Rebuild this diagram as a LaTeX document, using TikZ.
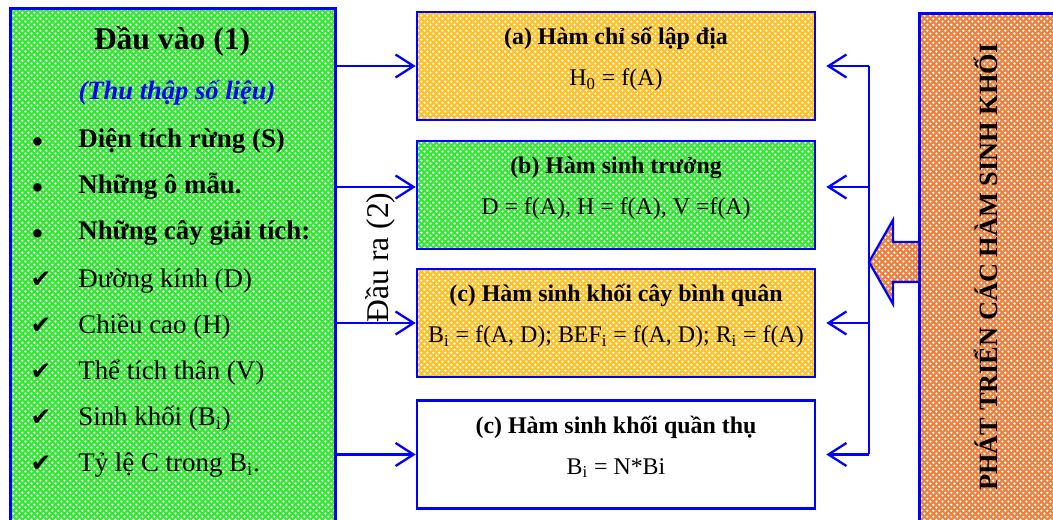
\documentclass[tikz,border=0pt]{standalone}
\usepackage{fontspec}
\setmainfont{Liberation Serif}
\newfontfamily\symfont{DejaVu Sans}
\usetikzlibrary{arrows.meta,patterns.meta}
\definecolor{gfill}{RGB}{50,232,50}
\definecolor{yfill}{RGB}{255,192,40}
\definecolor{ofill}{RGB}{236,128,60}
\definecolor{bline}{RGB}{0,0,255}
\tikzdeclarepattern{
  name=wdots,
  type=uncolored,
  bottom left={(0pt,0pt)},
  top right={(3.6pt,3.6pt)},
  tile size={(3.6pt,3.6pt)},
  code={
    \fill (0.9pt,0.9pt) circle (0.8pt);
    \fill (2.7pt,2.7pt) circle (0.8pt);
  }
}
\begin{document}
\begin{tikzpicture}[
        box/.style={draw=bline, line width=1.5pt, minimum width=7.96cm, minimum height=2.16cm, inner sep=0pt},
        dotbg/.style={preaction={fill=#1}, pattern=wdots, pattern color=white},
        ttl/.style={anchor=base, font=\fontsize{13.6}{16}\selectfont\bfseries},
        frm/.style={anchor=base, font=\fontsize{13.6}{16}\selectfont},
        item/.style={anchor=base west, inner sep=0pt, font=\fontsize{15.3}{18}\selectfont},
        bulletmark/.style={anchor=base, inner sep=0pt, font=\fontsize{14}{18}\selectfont},
        arr/.style={draw=bline, line width=1.3pt, -{Straight Barb[length=0.36cm,width=0.46cm]}}
        ]
        \clip (0,0) rectangle (21.06,-10.4);
        % input box
        \node[draw=bline, line width=1.5pt, dotbg=gfill, minimum width=6.5cm, minimum height=10.6cm, anchor=north west] (inbox) at (0.18,-0.14) {};
        \node[anchor=base, font=\fontsize{18}{22}\selectfont\bfseries] (t1) at (3.44,-1.0) {Đầu vào (1)};
        \node[anchor=base, text=bline, font=\fontsize{15.1}{18}\selectfont\bfseries\itshape] (t2) at (3.54,-2.0) {(Thu thập số liệu)};
        \node[bulletmark, font=\fontsize{20}{24}\selectfont] (k1) at (0.75,-3.08) {\textbullet};
        \node[bulletmark, font=\fontsize{20}{24}\selectfont] (k2) at (0.75,-4.0) {\textbullet};
        \node[bulletmark, font=\fontsize{20}{24}\selectfont] (k3) at (0.75,-4.92) {\textbullet};
        \node[bulletmark] (k4) at (0.82,-5.76) {\symfont ✔};
        \node[bulletmark] (k5) at (0.82,-6.68) {\symfont ✔};
        \node[bulletmark] (k6) at (0.82,-7.6) {\symfont ✔};
        \node[bulletmark] (k7) at (0.82,-8.52) {\symfont ✔};
        \node[bulletmark] (k8) at (0.82,-9.44) {\symfont ✔};
        \node[item, font=\fontsize{15.3}{18}\selectfont\bfseries] (i1) at (1.56,-2.96) {Diện tích rừng (S)};
        \node[item, font=\fontsize{15.3}{18}\selectfont\bfseries] (i2) at (1.56,-3.88) {Những ô mẫu.};
        \node[item, font=\fontsize{15.3}{18}\selectfont\bfseries] (i3) at (1.56,-4.8) {Những cây giải tích:};
        \node[item] (i4) at (1.56,-5.76) {Đường kính (D)};
        \node[item] (i5) at (1.56,-6.68) {Chiều cao (H)};
        \node[item] (i6) at (1.56,-7.6) {Thể tích thân (V)};
        \node[item] (i7) at (1.56,-8.52) {Sinh khối (B\textsubscript{i})};
        \node[item] (i8) at (1.56,-9.44) {Tỷ lệ C trong B\textsubscript{i}.};
        % function boxes
        \node[box, dotbg=yfill] (a) at (12.32,-1.32) {};
        \node[ttl] (a1) at ([yshift=-0.68cm]a.north) {(a) Hàm chỉ số lập địa};
        \node[frm] (a2) at ([yshift=-1.5cm]a.north) {H\textsubscript{0} = f(A)};
        \node[box, dotbg=gfill] (b) at (12.32,-3.9) {};
        \node[ttl] (b1) at ([yshift=-0.68cm]b.north) {(b) Hàm sinh trưởng};
        \node[frm] (b2) at ([yshift=-1.5cm]b.north) {D = f(A), H = f(A), V =f(A)};
        \node[box, dotbg=yfill] (c) at (12.32,-6.46) {};
        \node[ttl] (c1) at ([yshift=-0.68cm]c.north) {(c) Hàm sinh khối cây bình quân};
        \node[frm] (c2) at ([yshift=-1.5cm]c.north) {B\textsubscript{i} = f(A, D); BEF\textsubscript{i} = f(A, D); R\textsubscript{i} = f(A)};
        \node[box, fill=white] (d) at (12.32,-9.09) {};
        \node[ttl] (d1) at ([yshift=-0.68cm]d.north) {(c) Hàm sinh khối quần thụ};
        \node[frm] (d2) at ([yshift=-1.5cm]d.north) {B\textsubscript{i} = N*Bi};
        % right box
        \node[draw=bline, line width=1.5pt, dotbg=ofill, minimum width=3cm, minimum height=10.6cm, anchor=north west] (outbox) at (18.36,-0.24) {};
        \node[rotate=90, anchor=base, font=\fontsize{15}{18}\selectfont\bfseries] (rt) at (19.94,-5.34) {PHÁT TRIỂN CÁC HÀM SINH KHỐI};
        % left arrows
        \coordinate (bL) at ([yshift=0.16cm]b.west);
        \coordinate (bR) at ([yshift=0.16cm]b.east);
        \draw[arr] (inbox.east |- a.west) -- (a.west);
        \draw[arr] (inbox.east |- bL) -- (bL);
        \draw[arr] (inbox.east |- c.west) -- (c.west);
        \draw[arr] (inbox.east |- d.west) -- (d.west);
        \node[rotate=90, anchor=base, font=\fontsize{18}{21}\selectfont] (outlbl) at (7.76,-5.15) {Đầu ra (2)};
        % right arrows
        \coordinate (bus) at (17.38,0);
        \draw[draw=bline, line width=1.3pt] (bus |- a.east) -- (bus |- d.east);
        \draw[arr] (bus |- a.east) -- ([xshift=0.2cm]a.east);
        \draw[arr] (bus |- bR) -- ([xshift=0.2cm]bR);
        \draw[arr] (bus |- c.east) -- ([xshift=0.2cm]c.east);
        \draw[arr] (bus |- d.east) -- ([xshift=0.2cm]d.east);
        \draw[draw=bline, line width=1.3pt, dotbg=ofill] (18.36,-4.84) -- (17.86,-4.84) -- (17.86,-4.4) -- (17.38,-5.24) -- (17.86,-6.08) -- (17.86,-5.64) -- (18.36,-5.64);
        \end{tikzpicture}
\end{document}
